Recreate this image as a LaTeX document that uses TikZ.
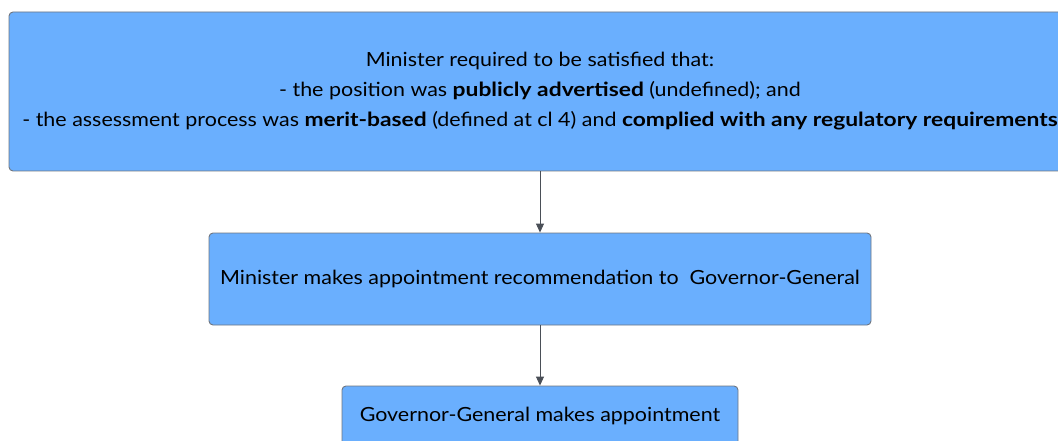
\documentclass[tikz,border=0pt]{standalone}
\usepackage{fontspec}
\setmainfont{Lato}[FakeStretch=1.1, BoldFeatures={FakeStretch=1.17}]
\usetikzlibrary{arrows.meta}
\definecolor{boxfill}{HTML}{6AAFFE}
\definecolor{boxline}{HTML}{6F7680}
\definecolor{linkcol}{HTML}{4A4F57}
\tikzset{
  flowbox/.style={draw=boxline, fill=boxfill, line width=0.9pt, rounded corners=4pt,
    inner sep=0pt, align=center, text=black,
    font=\fontsize{19.5pt}{30pt}\selectfont},
  link/.style={draw=linkcol, line width=0.9pt, -{Triangle[length=9pt,width=8pt]}}
}
\begin{document}
\begin{tikzpicture}[x=1pt,y=-1pt]
\useasboundingbox (0,0) rectangle (1058,441);
\clip (0,0) rectangle (1058,441);
\node[flowbox, minimum width=1062pt, minimum height=159pt] (cond) at (540,91.5)
  {Minister required to be satisfied that:\\
   - the position was \textbf{publicly advertised} (undefined); and\\
   - the assessment process was \textbf{merit-based} (defined at cl 4) and \textbf{complied with any regulatory requirements}};
\node[flowbox, minimum width=662pt, minimum height=92pt] (rec) at (540,279)
  {Minister makes appointment recommendation to\ \ Governor-General};
\node[flowbox, minimum width=396pt, minimum height=60pt] (appt) at (540,416)
  {Governor-General makes appointment};
\draw[link] (cond.south) -- (rec.north);
\draw[link] (rec.south) -- (appt.north);
\end{tikzpicture}
\end{document}
